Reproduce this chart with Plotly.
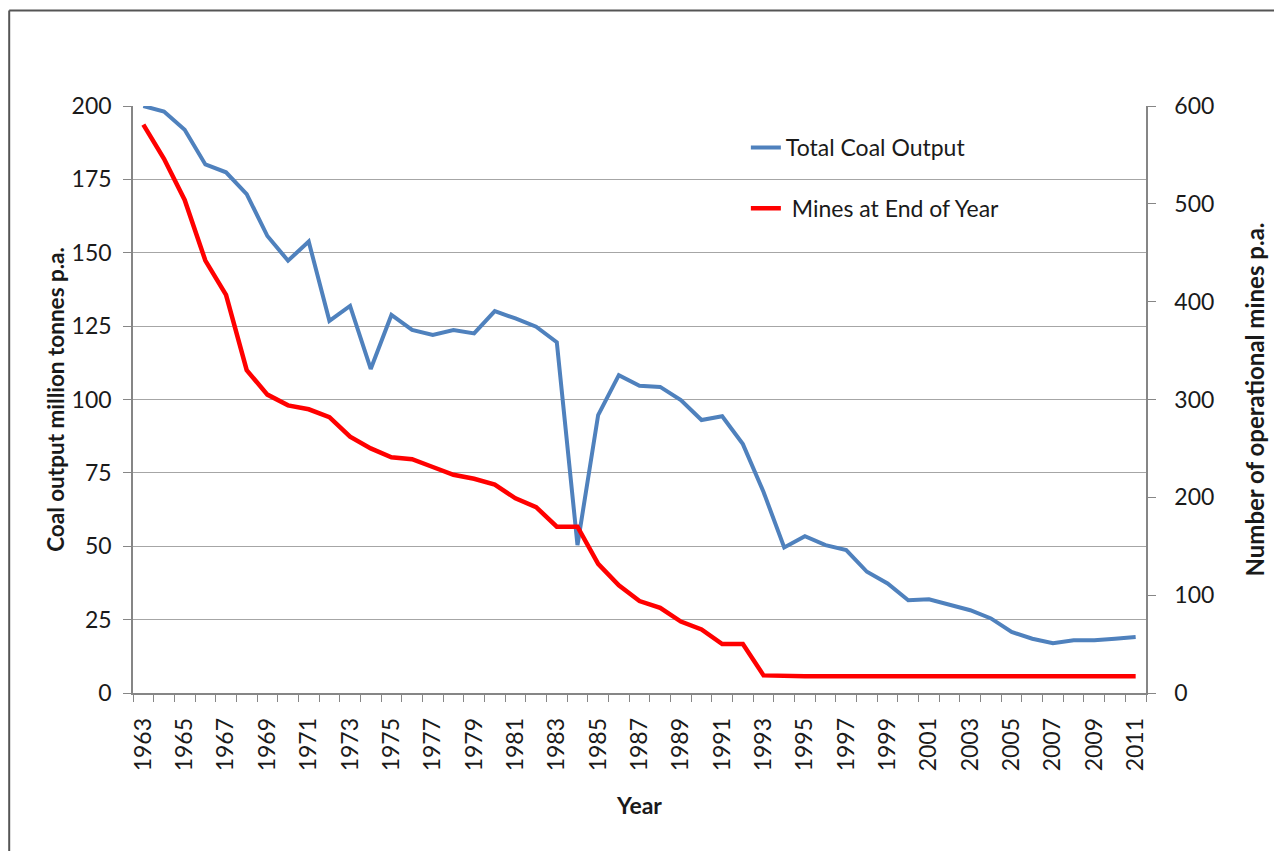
import plotly.graph_objects as go

years = list(range(1963, 2012))
coal_output = [200.0, 198.1, 191.9, 180.1, 177.4, 170.0, 155.7, 147.3, 153.8, 126.8,
               131.9, 110.4, 128.8, 123.7, 122.0, 123.7, 122.5, 130.1, 127.6, 124.8,
               119.5, 50.4, 94.7, 108.3, 104.7, 104.3, 99.8, 93.0, 94.3, 84.8,
               68.5, 49.6, 53.4, 50.4, 48.7, 41.3, 37.3, 31.6, 31.9, 29.9,
               28.2, 25.4, 20.8, 18.5, 17.0, 18.0, 18.0, 18.5, 19.1]
mines = [581, 546, 504, 442, 407, 330, 305, 294, 290, 282,
         262, 250, 241, 239, 231, 223, 219, 213, 199, 190,
         170, 170, 132, 110, 94, 87, 73, 65, 50, 50,
         18, 17, 17, 17, 17, 17, 17, 17, 17, 17,
         17, 17, 17, 17, 17, 17, 17, 17, 17]
x_tick_years = list(range(1963, 2012, 2))

FONT = "Lato"
fig = go.Figure()
fig.add_trace(go.Scatter(x=years, y=coal_output, mode="lines", name="Total Coal Output",
                         line=dict(color="#4f81bd", width=4), legendgroup="a"))
fig.add_trace(go.Scatter(x=years, y=mines, mode="lines", name="\u00a0Mines at End of Year",
                         line=dict(color="#ff0000", width=4.5), yaxis="y2", legendgroup="b"))

W, H = 1274, 843
L, R, T, B = 125, 136, 98, 158
fig.update_layout(
    width=W, height=H,
    margin=dict(l=L, r=R, t=T, b=B, autoexpand=False),
    paper_bgcolor="white", plot_bgcolor="white",
    font=dict(family=FONT, size=23, color="#1a1a1a"),
    showlegend=True,
    legend=dict(x=0.605, y=0.966, xanchor="left", yanchor="top",
                font=dict(size=23, family=FONT), tracegroupgap=28,
                bgcolor="rgba(0,0,0,0)"),
    xaxis=dict(range=[1962.5, 2011.5], tickmode="array", tickvals=x_tick_years,
               ticktext=[str(y) for y in x_tick_years], tickangle=-90,
               ticks="", showgrid=False, showline=True, linecolor="#868686", linewidth=1.5,
               ticklabelstandoff=14, automargin=False,
               minor=dict(tickmode="linear", tick0=1962.5, dtick=1, ticks="outside",
                          ticklen=7, tickcolor="#868686", showgrid=False),
               title=dict(text="<b>Year</b>", font=dict(size=23), standoff=28),
               tickfont=dict(size=23), zeroline=False),
    yaxis=dict(range=[0, 200], tickmode="linear", tick0=0, dtick=25,
               showgrid=True, gridcolor="#a6a6a6", gridwidth=1.3,
               showline=True, linecolor="#868686", linewidth=1.5, automargin=False,
               ticks="outside", ticklen=8, tickcolor="#868686", ticklabelstandoff=7,
               title=dict(text="<b>Coal output million tonnes p.a.</b>", font=dict(size=22.5), standoff=1),
               tickfont=dict(size=23), zeroline=False),
    yaxis2=dict(range=[0, 600], tickmode="linear", tick0=0, dtick=100, overlaying="y",
                side="right", showgrid=False, showline=True, linecolor="#868686", linewidth=1.5,
                ticks="outside", ticklen=8, tickcolor="#868686", ticklabelstandoff=14,
                automargin=False,
                title=dict(text="<b>Number of operational mines p.a.</b>", font=dict(size=24), standoff=34),
                tickfont=dict(size=23), zeroline=False),
)

# outer chart frame (top and left edges visible)
pw = W - L - R
ph = H - T - B
x0 = (1.2 - L) / pw
y0 = 1 + (T - 2.5) / ph
fig.add_shape(type="line", xref="paper", yref="paper", x0=x0, x1=(W + 5 - L) / pw, y0=y0, y1=y0,
              line=dict(color="#555555", width=2))
fig.add_shape(type="line", xref="paper", yref="paper", x0=x0, x1=x0, y0=y0, y1=-(B + 5) / ph,
              line=dict(color="#555555", width=2))

fig.write_html("out.html")
